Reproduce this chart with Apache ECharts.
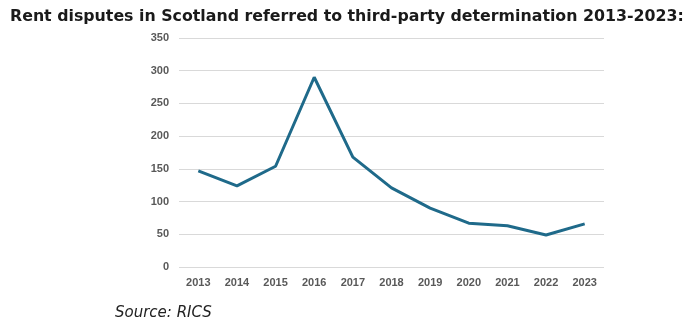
<!DOCTYPE html>
<html><head><meta charset="utf-8">
<script src="https://cdn.jsdelivr.net/npm/echarts@6/dist/echarts.min.js"></script>
<style>html,body{margin:0;padding:0;background:#fff}#c{width:696px;height:327px}</style>
</head><body><div id="c"></div>
<script>
const years = ['2013','2014','2015','2016','2017','2018','2019','2020','2021','2022','2023'];
const disputes = [147, 124, 154, 290, 168, 121, 90, 67, 63, 49, 66];
const yTicks = [0, 50, 100, 150, 200, 250, 300, 350];

const chart = echarts.init(document.getElementById('c'), null, {renderer: 'canvas'});
chart.setOption({
  animation: false,
  backgroundColor: '#ffffff',
  title: [{
    text: 'Rent disputes in Scotland referred to third-party determination 2013-2023:',
    left: 5, top: 4,
    textStyle: {fontFamily: 'DejaVu Sans', fontWeight: 'bold', fontSize: 15.8, color: '#1a1a1a'}
  }, {
    text: 'Source: RICS',
    left: 110, top: 301,
    textStyle: {fontFamily: 'DejaVu Sans', fontStyle: 'italic', fontWeight: 'normal', fontSize: 15, color: '#222'}
  }],
  grid: {left: 179, right: 92, top: 38, bottom: 60},
  xAxis: {
    type: 'category', data: years, boundaryGap: true,
    axisLine: {show: false}, axisTick: {show: false},
    axisLabel: {fontFamily: 'Liberation Sans', fontWeight: 'bold', fontSize: 11, color: '#595959', margin: 10}
  },
  yAxis: {
    type: 'value', min: 0, max: 350, interval: 50,
    axisLine: {show: false}, axisTick: {show: false},
    splitLine: {lineStyle: {color: '#d9d9d9', width: 1}},
    axisLabel: {fontFamily: 'Liberation Sans', fontWeight: 'bold', fontSize: 11, color: '#595959', margin: 10,
      formatter: v => yTicks.includes(v) ? String(v) : ''}
  },
  series: [{
    type: 'line', data: disputes, symbol: 'none',
    lineStyle: {color: '#1f6a8a', width: 3}
  }]
});
</script></body></html>
